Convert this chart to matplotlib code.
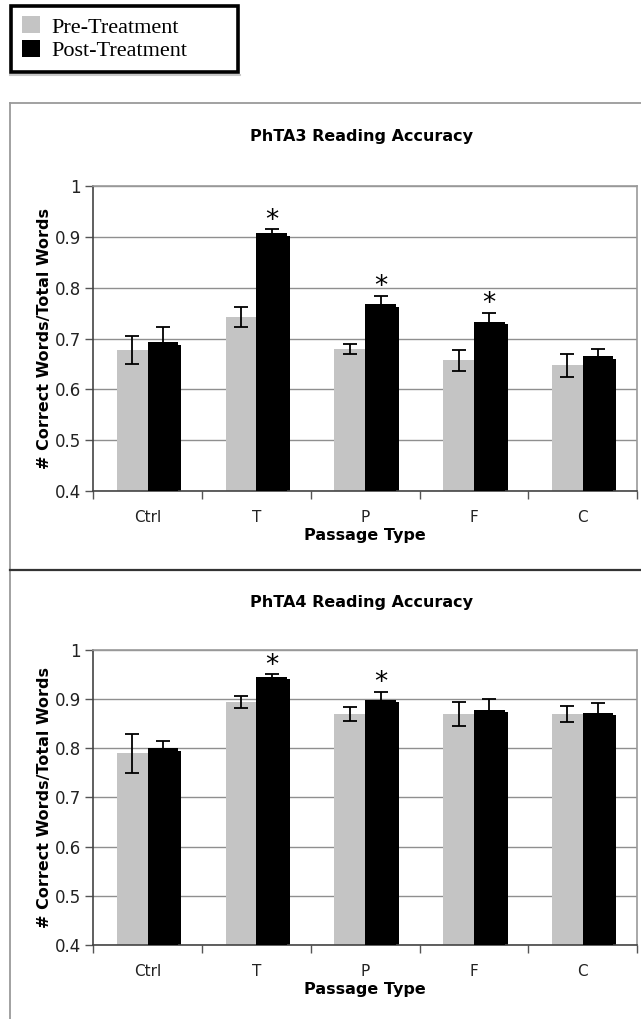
import matplotlib
matplotlib.use("Agg")
import matplotlib.pyplot as plt
import numpy as np
from matplotlib.lines import Line2D
from matplotlib.patches import Rectangle

categories = ['Ctrl', 'T', 'P', 'F', 'C']
series_names = ['Pre-Treatment', 'Post-Treatment']

a3_pre = [0.677, 0.742, 0.680, 0.657, 0.647]
a3_pre_err = [0.027, 0.020, 0.010, 0.020, 0.022]
a3_post = [0.693, 0.907, 0.767, 0.733, 0.665]
a3_post_err = [0.030, 0.008, 0.017, 0.018, 0.015]
a3_sig = [False, True, True, True, False]

a4_pre = [0.790, 0.895, 0.870, 0.870, 0.870]
a4_pre_err = [0.040, 0.012, 0.015, 0.024, 0.017]
a4_post = [0.800, 0.946, 0.899, 0.878, 0.872]
a4_post_err = [0.015, 0.005, 0.016, 0.022, 0.021]
a4_sig = [False, True, True, False, False]

titles = ['PhTA3 Reading Accuracy', 'PhTA4 Reading Accuracy']
ylabel = '# Correct Words/Total Words'
xlabel = 'Passage Type'
yticks = [0.4, 0.5, 0.6, 0.7, 0.8, 0.9, 1.0]
ytick_labels = ['0.4', '0.5', '0.6', '0.7', '0.8', '0.9', '1']

W, H = 641, 1019
fig = plt.figure(figsize=(W / 100, H / 100), dpi=100)

PRE_C = '#c4c4c4'
POST_C = '#000000'

def fx(px):
    return px / W

def fy(py):
    return 1 - py / H

def draw(ax, pre, pre_err, post, post_err, sig, title, title_y):
    x = np.arange(len(categories))
    bw = 0.283
    off = 0.1415
    ax.set_xlim(-0.5, len(categories) - 0.5)
    ax.set_ylim(0.4, 1.0)
    ax.set_yticks(yticks)
    ax.set_yticklabels(ytick_labels)
    ax.yaxis.grid(True, color='#8f8f8f', linewidth=1.0, zorder=0)
    ax.set_axisbelow(True)
    b1 = ax.bar(x - off, np.array(pre) - 0.4, bw, bottom=0.4, color=PRE_C,
                zorder=2, label=series_names[0])
    # shadow of black bars
    ax.bar(x + off + 0.027, np.array(post) - 0.4 - 0.005, bw, bottom=0.4,
           color=POST_C, zorder=2)
    b2 = ax.bar(x + off, np.array(post) - 0.4, bw, bottom=0.4, color=POST_C,
                zorder=3, label=series_names[1])
    ax.errorbar(x - off, pre, yerr=pre_err, fmt='none', ecolor='black',
                elinewidth=1.3, capsize=5, capthick=1.3, zorder=4)
    ax.errorbar(x + off, post, yerr=post_err, fmt='none', ecolor='black',
                elinewidth=1.3, capsize=5, capthick=1.3, zorder=4)
    for i, s in enumerate(sig):
        if s:
            ax.annotate('*', (x[i] + off, post[i] + post_err[i]),
                        xytext=(0, 6), textcoords='offset points',
                        ha='center', va='center', fontsize=19,
                        family='DejaVu Sans', color='black')
    ax.set_xticks(np.arange(-0.5, len(categories), 1.0))
    ax.set_xticklabels([])
    ax.set_xticks(x, minor=True)
    ax.set_xticklabels(categories, minor=True, fontsize=11, color='#222222')
    ax.tick_params(axis='x', which='major', length=6, direction='out',
                   color='#555555', width=1)
    ax.tick_params(axis='x', which='minor', length=0, pad=14)
    ax.tick_params(axis='y', length=6, direction='out', color='#555555',
                   width=1, labelsize=12, labelcolor='#222222', pad=3)
    for sp in ['left', 'bottom']:
        ax.spines[sp].set_color('#444444')
        ax.spines[sp].set_linewidth(1.2)
    for sp in ['top', 'right']:
        ax.spines[sp].set_color('#9a9a9a')
        ax.spines[sp].set_linewidth(1.2)
    ax.set_ylabel(ylabel, fontsize=11.5, fontweight='bold', labelpad=2)
    ax.set_xlabel(xlabel, fontsize=11.5, fontweight='bold', labelpad=2)
    fig.text(fx(362), fy(title_y), title, ha='center', va='center',
             fontsize=11.5, fontweight='bold')
    return b1, b2

ax1 = fig.add_axes([fx(93.3), fy(491), fx(637 - 93.3), (491 - 186) / H])
ax2 = fig.add_axes([fx(93.3), fy(945), fx(637 - 93.3), (945 - 650) / H])

h1, h2 = draw(ax1, a3_pre, a3_pre_err, a3_post, a3_post_err, a3_sig, titles[0], 137)
draw(ax2, a4_pre, a4_pre_err, a4_post, a4_post_err, a4_sig, titles[1], 603)

# panel borders
fig.add_artist(Line2D([fx(9.5), 1.0], [fy(103), fy(103)], color='#9a9a9a', lw=1.3))
fig.add_artist(Line2D([fx(9.5), fx(9.5)], [fy(103), 0.0], color='#9a9a9a', lw=1.3))
fig.add_artist(Line2D([fx(9.5), 1.0], [fy(570), fy(570)], color='#333333', lw=1.6))

# legend box
fig.add_artist(Rectangle((fx(11), fy(72)), fx(238 - 11), (72 - 6) / H,
                         transform=fig.transFigure, facecolor='white',
                         edgecolor='black', linewidth=2.6, zorder=5))
fig.add_artist(Line2D([fx(10), fx(240)], [fy(75), fy(75)], color='#c8c8c8', lw=1.5))
leg = fig.legend(handles=[h1, h2], labels=series_names, loc='upper left',
                 bbox_to_anchor=(fx(18), fy(12)), borderaxespad=0,
                 prop={'family': 'Liberation Serif', 'size': 16},
                 frameon=False, handlelength=0.8, handleheight=0.8,
                 handletextpad=0.5, labelspacing=0.1, borderpad=0.2)
leg.set_zorder(6)

fig.savefig('out.png', dpi=100)
